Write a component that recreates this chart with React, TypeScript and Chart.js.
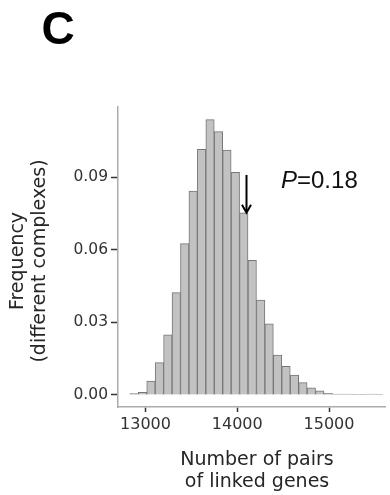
import React, { useEffect, useRef } from "react";
import { Chart, registerables } from "chart.js";

Chart.register(...registerables);

// Histogram bins (centre of each bin, number of pairs of linked genes)
const BIN_CENTERS = [
  12875, 12967, 13059, 13151, 13243, 13335, 13427, 13519, 13611, 13703,
  13795, 13887, 13979, 14071, 14163, 14255, 14347, 14439, 14531, 14623,
  14715, 14807, 14899, 14991, 15083, 15175, 15267, 15359, 15451, 15543,
];
// Frequency of each bin (different complexes)
const FREQUENCIES = [
  0.0006, 0.0011, 0.0057, 0.0134, 0.0249, 0.0423, 0.0626, 0.0843, 0.1016, 0.1139,
  0.1089, 0.1013, 0.0921, 0.0753, 0.0557, 0.0393, 0.0294, 0.0165, 0.0118, 0.0082,
  0.0051, 0.0030, 0.0017, 0.0007, 0.0004, 0.0004, 0.0003, 0.0001, 0.0004, 0.0003,
];
const X_TICKS = [13000, 14000, 15000];
const Y_TICKS = [0, 0.03, 0.06, 0.09];
const PANEL_LABEL = "C";
const X_TITLE = ["Number of pairs", "of linked genes"];
const Y_TITLE = ["Frequency", "(different complexes)"];
const P_LABEL = "P";
const P_VALUE = "=0.18";
// observed value marked by the arrow
const OBSERVED_X = 14100;
const ARROW_TOP = 0.091;
const ARROW_TIP = 0.0754;

const FONT = "'DejaVu Sans', sans-serif";
const ARIAL = "'Liberation Sans', Arial, sans-serif";

export default function App() {
  const ref = useRef<HTMLCanvasElement>(null);

  useEffect(() => {
    const canvas = ref.current;
    if (!canvas) return;

    const overlay = {
      id: "overlay",
      afterDraw(chart: any) {
        const ctx = chart.ctx;
        const xs = chart.scales.x;
        const ys = chart.scales.y;
        ctx.save();
        // panel label
        ctx.fillStyle = "#000";
        ctx.font = `bold 46px ${ARIAL}`;
        ctx.textAlign = "center";
        ctx.textBaseline = "alphabetic";
        ctx.fillText(PANEL_LABEL, 58, 44);

        // P value
        ctx.fillStyle = "#111";
        ctx.textAlign = "left";
        ctx.font = `italic 24px ${ARIAL}`;
        const px = 281;
        const py = 187.5;
        ctx.fillText(P_LABEL, px, py);
        const pw = ctx.measureText(P_LABEL).width;
        ctx.font = `24px ${ARIAL}`;
        ctx.fillText(P_VALUE, px + pw, py);

        // arrow
        const ax = Math.round(xs.getPixelForValue(OBSERVED_X)) + 0.5;
        const ay0 = ys.getPixelForValue(ARROW_TOP);
        const ay1 = ys.getPixelForValue(ARROW_TIP);
        ctx.strokeStyle = "#000";
        ctx.lineWidth = 2;
        ctx.beginPath();
        ctx.moveTo(ax, ay0);
        ctx.lineTo(ax, ay1 - 1);
        ctx.stroke();
        ctx.beginPath();
        ctx.moveTo(ax - 4.5, ay1 - 8);
        ctx.lineTo(ax, ay1);
        ctx.lineTo(ax + 4.5, ay1 - 8);
        ctx.lineJoin = "miter";
        ctx.stroke();

        // axis titles
        ctx.fillStyle = "#262626";
        ctx.font = `19px ${FONT}`;
        ctx.textAlign = "center";
        ctx.fillText(X_TITLE[0], 257, 465);
        ctx.fillText(X_TITLE[1], 257, 487);

        const cy = (chart.chartArea.top + chart.chartArea.bottom) / 2 + 4;
        ctx.save();
        ctx.translate(23, cy);
        ctx.rotate(-Math.PI / 2);
        ctx.fillText(Y_TITLE[0], 0, 0);
        ctx.restore();
        ctx.save();
        ctx.translate(45, cy);
        ctx.rotate(-Math.PI / 2);
        ctx.fillText(Y_TITLE[1], 0, 0);
        ctx.restore();

        ctx.restore();
      },
    };

    const chart = new Chart(canvas, {
      type: "bar",
      data: {
        datasets: [
          {
            data: BIN_CENTERS.map((x, i) => ({ x, y: FREQUENCIES[i] })),
            backgroundColor: "#c2c2c2",
            borderColor: "#767676",
            borderWidth: 1,
            barPercentage: 1,
            categoryPercentage: 1,
          },
        ],
      },
      options: {
        animation: false,
        responsive: false,
        devicePixelRatio: 1,
        layout: { padding: { top: 107, right: 5, bottom: 0, left: 0 } },
        plugins: { legend: { display: false }, tooltip: { enabled: false } },
        scales: {
          x: {
            type: "linear",
            min: 12700,
            max: 15610,
            offset: false,
            afterFit: (s: any) => {
              s.height = 88;
            },
            afterBuildTicks: (s: any) => {
              s.ticks = X_TICKS.map((v) => ({ value: v }));
            },
            grid: {
              offset: false,
              drawOnChartArea: false,
              drawTicks: true,
              tickLength: 5,
              tickColor: "#333",
              tickWidth: 1.5,
            },
            border: { display: true, color: "#ababab", width: 1.5 },
            ticks: {
              font: { family: FONT, size: 16 },
              color: "#333",
              padding: 3,
              maxRotation: 0,
              autoSkip: false,
              callback: (v: any) => String(v),
            },
          },
          y: {
            type: "linear",
            min: -0.00497,
            max: 0.1191,
            afterFit: (s: any) => {
              s.width = 118;
            },
            afterBuildTicks: (s: any) => {
              s.ticks = Y_TICKS.map((v) => ({ value: v }));
            },
            grid: {
              drawOnChartArea: false,
              drawTicks: true,
              tickLength: 7,
              tickColor: "#333",
              tickWidth: 1.5,
            },
            border: { display: true, color: "#ababab", width: 1.5 },
            ticks: {
              font: { family: FONT, size: 15.5 },
              color: "#333",
              padding: 3,
              autoSkip: false,
              callback: (v: any) => Number(v).toFixed(2),
            },
          },
        },
      },
      plugins: [overlay],
    });

    return () => chart.destroy();
  }, []);

  return (
    <div style={{ position: "fixed", left: 0, top: 0, width: 390, height: 495, background: "#fff" }}>
      <canvas ref={ref} width={390} height={495} style={{ width: 390, height: 495, display: "block" }} />
    </div>
  );
}
